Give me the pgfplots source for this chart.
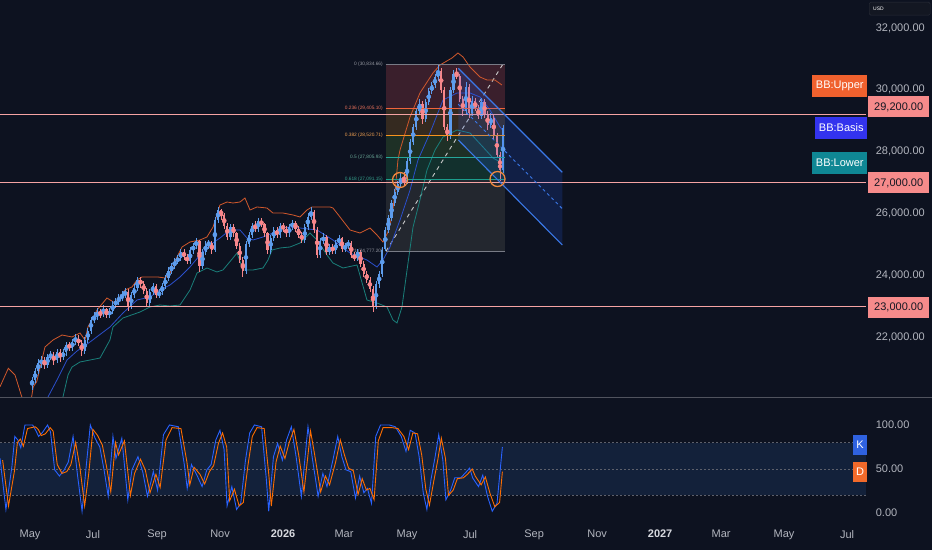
\documentclass[border=0pt]{standalone}
\usepackage{fontspec}
\setmainfont{Liberation Sans}
\usepackage{pgfplots}
\usepackage{pgfplotstable}
\pgfplotsset{compat=1.18}
\usepgfplotslibrary{fillbetween}
\definecolor{bgc}{HTML}{0D1220}
\definecolor{tickc}{HTML}{B2B5BE}
\definecolor{yearc}{HTML}{D8DAE0}
\definecolor{upc}{HTML}{5D9CEC}
\definecolor{dnc}{HTML}{F7868A}
\definecolor{cUpper}{HTML}{D0582C}
\definecolor{cBasis}{HTML}{2B4FCC}
\definecolor{cLower}{HTML}{1A7F7A}
\definecolor{bbfillc}{HTML}{2962FF}
\definecolor{hlinec}{HTML}{F5A3A3}
\definecolor{tagc}{HTML}{F68B8B}
\definecolor{tagtext}{HTML}{131722}
\definecolor{tagU}{HTML}{F0612E}
\definecolor{tagB}{HTML}{3333EE}
\definecolor{tagL}{HTML}{0F8794}
\definecolor{fL0}{HTML}{787B86}
\definecolor{fL236}{HTML}{F0643C}
\definecolor{fL382}{HTML}{F7931E}
\definecolor{fL5}{HTML}{26A69A}
\definecolor{fL618}{HTML}{1C9E8C}
\definecolor{fF0}{HTML}{3A1F2C}
\definecolor{fF236}{HTML}{352A20}
\definecolor{fF382}{HTML}{1E3026}
\definecolor{fF5}{HTML}{12302D}
\definecolor{fF618}{HTML}{23272F}
\definecolor{lab0}{HTML}{9598A1}
\definecolor{lab236}{HTML}{E8705A}
\definecolor{lab382}{HTML}{F0A050}
\definecolor{lab5}{HTML}{6AA898}
\definecolor{lab618}{HTML}{34A08C}
\definecolor{trendc}{HTML}{C8C8C8}
\definecolor{chanc}{HTML}{3A78E8}
\definecolor{chanf}{HTML}{2962FF}
\definecolor{circc}{HTML}{F0883E}
\definecolor{sepc}{HTML}{50535E}
\definecolor{bandc}{HTML}{13213A}
\definecolor{dashc}{HTML}{5D606B}
\definecolor{kc}{HTML}{2962FF}
\definecolor{dc}{HTML}{FF6D00}
\definecolor{tagK}{HTML}{2F62E0}
\definecolor{tagD}{HTML}{F26A2A}
\definecolor{usdf}{HTML}{131722}
\definecolor{usdb}{HTML}{2A2E39}
\newcommand\tvfont{\fontsize{11}{13}\selectfont}

\pgfplotstableread{
d o h l c
2 20450 20700 20300 20600
5 20600 21000 20500 20900
8 20900 21300 20800 21150
11 21150 21400 21000 21250
14 21250 21350 20950 21100
17 21100 21450 21000 21350
20 21350 21550 21250 21400
23 21400 21500 21100 21250
26 21250 21600 21150 21500
29 21500 21600 21200 21350
32 21350 21600 21250 21500
35 21500 21850 21400 21750
38 21750 21850 21550 21650
41 21650 21950 21550 21850
44 21850 22100 21750 21950
47 21950 22050 21700 21800
50 21800 21900 21400 21550
53 21550 22000 21450 21900
56 21900 22300 21800 22200
59 22200 22650 22100 22550
62 22550 22800 22450 22650
65 22650 22950 22550 22800
68 22800 22900 22600 22750
71 22750 23050 22650 22900
74 22900 22950 22600 22700
77 22700 22950 22600 22850
80 22850 23150 22750 23050
83 23050 23250 22950 23150
86 23150 23400 23050 23250
89 23250 23500 23150 23350
92 23350 23600 23250 23450
95 23450 23550 22850 23000
98 23000 23450 22900 23350
101 23350 23700 23250 23600
104 23600 23950 23500 23850
107 23850 23950 23600 23700
110 23700 23800 23400 23500
113 23500 23600 23000 23100
116 23100 23550 23000 23450
119 23450 23750 23350 23650
122 23650 23700 23250 23350
125 23350 23550 23250 23450
128 23450 23750 23350 23650
131 23650 24000 23550 23900
134 23900 24250 23800 24150
137 24150 24400 24050 24300
140 24300 24550 24200 24450
143 24450 24650 24350 24550
146 24550 24850 24450 24750
149 24750 24850 24500 24600
152 24600 24700 24350 24450
155 24450 24900 24350 24800
158 24800 25050 24700 24950
161 24950 25200 24850 25100
164 25100 25150 24100 24300
167 24300 24850 24200 24750
170 24750 25100 24650 25000
173 25000 25150 24850 25050
176 25050 25100 24700 24800
179 24800 25900 24750 25800
182 25800 26200 25700 26100
185 26100 26150 25800 25950
188 25950 26000 25500 25600
191 25600 25700 25150 25250
194 25250 25650 25150 25550
197 25550 25650 25250 25350
200 25350 25400 24850 24950
203 24950 25050 24400 24500
206 24500 24600 23950 24150
209 24150 25100 24050 25000
212 25000 25400 24900 25300
215 25300 25700 25200 25600
218 25600 25750 25400 25500
221 25500 25850 25400 25750
224 25750 25850 25550 25650
227 25650 25700 25250 25350
230 25350 25400 24700 24800
233 24800 25300 24700 25200
236 25200 25550 25100 25450
239 25450 25550 25200 25300
242 25300 25700 25200 25600
245 25600 25700 25400 25500
248 25500 25600 25250 25350
251 25350 25650 25250 25550
254 25550 25800 25450 25700
257 25700 25750 25400 25500
260 25500 25600 25200 25300
263 25300 25400 25050 25150
266 25150 25650 25050 25550
269 25550 26000 25450 25900
272 25900 26200 25800 26050
275 26050 26100 25350 25450
278 25450 25550 24550 24650
281 24650 25200 24550 25100
284 25100 25350 25000 25250
287 25250 25300 24650 24750
290 24750 25000 24650 24900
293 24900 25000 24700 24800
296 24800 25150 24700 25050
299 25050 25300 24950 25200
302 25200 25250 24750 24850
305 24850 25050 24750 24950
308 24950 25150 24850 25050
311 25050 25100 24550 24650
314 24650 24750 24450 24550
317 24550 24850 24450 24750
320 24750 24800 24250 24350
323 24350 24450 23950 24050
326 24050 24150 23750 23850
329 23850 23950 23450 23550
332 23550 23650 22800 23000
335 23000 23800 22900 23700
338 23700 24150 23600 24050
341 24050 24900 23950 24800
344 24850 25550 24777.2 25450
347 25450 25950 25350 25850
350 25850 26450 25750 26350
353 26350 26800 26250 26700
356 26700 27050 26600 26950
359 26950 27300 26850 27100
362 27100 27350 26900 27000
365 27000 27800 26950 27700
368 27700 28400 27600 28300
371 28300 28900 28200 28800
374 28800 29400 28700 29300
377 29300 29700 29200 29550
380 29550 29650 28900 29050
383 29050 29700 28950 29600
386 29600 30050 29500 29950
389 29950 30250 29850 30150
392 30150 30500 30050 30400
395 30400 30834.66 30300 30600
398 30600 30700 29900 30000
401 30000 30100 28700 28800
404 28800 28900 28350 28500
407 28500 30100 28400 30000
410 30000 30650 29900 30500
413 30500 30700 30350 30450
416 30450 30500 29600 29700
419 29700 29800 29150 29300
422 29300 30250 29200 30100
425 30100 30200 29100 29250
428 29250 29800 29150 29650
431 29650 29750 29300 29400
434 29400 29500 29050 29150
437 29150 29750 29050 29600
440 29600 29700 29100 29200
443 29200 29300 28700 28850
446 28850 29250 28750 29100
449 29100 29200 28400 28500
452 28500 28600 27800 27900
455 27900 28000 27050 27400
458 27400 28850 27300 28750
}\candles

\pgfplotstableread{
d p
-29.0 20393
-21.0 20988
-14.5 20771
-8.0 20069
-4.0 19800
1.6 20069
3.2 20393
6.5 20554
14.5 21677
22.3 21904
31.0 22065
40.7 22001
48.4 22130
53.2 21904
56.1 22324
64.9 22874
74.5 23263
82.3 23101
87.1 23295
92.0 23522
98.7 23619
103.6 23845
108.4 23942
116.2 23942
123.9 23942
130.7 23910
135.5 24072
142.3 24590
147.1 24913
154.9 25075
164.6 25140
171.3 25237
177.2 25560
183.9 26272
190.7 26369
196.5 26337
203.3 26369
208.1 26499
213.0 26110
219.7 26208
229.4 26175
235.2 26013
244.9 26013
254.6 25949
261.4 25884
268.1 26110
273.0 26208
280.7 26208
290.4 26208
293.3 26175
300.1 25884
309.8 25463
319.5 25366
329.1 25528
335.9 25301
341.7 25075
346.6 25399
350.4 25884
353.3 26661
356.2 27728
358.2 28052
367.9 29120
377.5 29897
390.1 30544
396.9 30803
408.5 31029
414.3 31191
419.2 31062
426.0 30738
435.6 30414
442.4 30317
450.1 30317
456.9 30155
}\bbU

\pgfplotstableread{
d p
15.0 19700
17.4 20059
26.1 20609
35.8 21256
45.5 21548
58.1 21839
77.4 22324
90.0 22777
103.6 23198
116.2 23295
125.8 23522
135.5 23683
145.2 23942
154.9 24266
164.6 24654
174.2 24978
183.9 25204
193.6 25463
203.3 25463
210.1 25204
215.9 25140
225.6 25237
235.2 25366
244.9 25528
251.7 25560
261.4 25528
277.8 25463
293.3 25140
309.8 24719
326.2 24492
335.9 24266
341.7 24492
348.5 24913
358.2 25787
367.9 26758
375.6 27728
387.2 28602
399.8 29670
413.4 29897
426.0 29897
435.6 29767
445.3 29346
455.0 28796
457.5 28700
}\bbB

\pgfplotstableread{
d p
-29.0 17500
0.0 18500
25.0 19000
31.9 20059
36.8 20771
40.7 21030
48.4 21192
58.1 21256
67.8 21321
77.4 21904
80.3 22324
90.0 22616
106.5 22810
116.2 22972
125.8 23036
135.5 23004
145.2 23036
154.9 23522
161.7 24072
171.3 24234
181.0 24104
186.8 24169
196.5 24557
200.4 24719
206.2 24169
215.9 24169
225.6 24234
230.4 24492
234.3 24816
242.0 24881
251.7 24913
261.4 25043
271.1 25366
277.8 25140
287.5 24654
293.3 24395
303.0 24234
316.6 24331
326.2 23198
335.9 23101
345.6 22972
351.4 22551
355.3 22454
360.1 22972
365.0 24169
370.8 25560
377.5 26434
384.3 27405
392.1 28052
399.8 28473
413.4 28699
426.0 28602
438.5 28149
448.2 27793
456.9 27631
}\bbL

\pgfplotstableread{
d v
-29.0 62
-23.3 4
-17.5 53
-14.7 87
-11.8 83
-8.9 74
-4.9 100
2.6 100
5.5 94
8.4 87
12.4 92
17.0 100
19.9 92
23.9 49
28.5 42
33.1 49
37.1 58
41.7 87
45.8 45
50.4 2
54.4 53
58.4 100
63.0 85
67.6 75
71.7 49
75.7 19
80.3 87
83.2 62
88.9 85
94.7 15
98.7 49
104.5 64
109.1 47
113.7 19
119.4 47
123.5 26
129.2 89
135.0 100
143.6 98
149.4 55
152.2 28
156.3 55
162.0 42
166.6 30
171.2 49
175.3 55
179.9 83
183.9 94
187.9 72
190.8 8
195.4 30
200.0 4
204.0 11
208.6 60
212.7 91
217.3 100
224.2 98
228.8 38
231.1 2
235.7 64
239.7 79
244.3 60
248.4 83
253.0 98
257.6 64
262.7 19
269.1 98
273.1 64
278.9 19
283.5 45
287.5 30
293.2 60
297.9 87
301.9 64
305.9 49
310.5 47
315.1 17
319.1 42
323.2 23
326.6 28
330.6 11
334.7 87
339.3 100
347.9 100
353.7 98
359.4 87
364.0 70
368.1 94
372.7 91
376.7 64
380.7 23
384.2 4
388.2 38
392.2 64
395.7 89
399.7 60
402.6 15
407.2 26
411.2 40
417.0 40
421.0 45
425.6 51
428.5 40
434.2 30
438.3 43
442.9 19
447.5 2
452.1 11
457.3 75
}\stochK

\pgfplotstableread{
d v
-26.5 60
-20.8 8
-15.0 48
-12.2 80
-9.3 84
-6.4 76
-2.4 96
5.1 98
8.0 95
10.9 88
14.9 90
19.5 97
22.4 93
26.4 55
31.0 45
35.6 47
39.6 55
44.2 80
48.3 52
52.9 8
56.9 45
60.9 95
65.5 88
70.1 77
74.2 52
78.2 24
82.8 80
85.7 66
91.4 82
97.2 20
101.2 45
107.0 61
111.6 49
116.2 23
121.9 44
126.0 29
131.7 83
137.5 97
146.1 96
151.9 58
154.7 32
158.8 52
164.5 44
169.1 33
173.7 47
177.8 54
182.4 79
186.4 91
190.4 75
193.3 14
197.9 27
202.5 8
206.5 12
211.1 55
215.2 87
219.8 97
226.7 96
231.3 42
233.6 8
238.2 58
242.2 76
246.8 62
250.9 80
255.5 95
260.1 66
265.2 24
271.6 93
275.6 66
281.4 24
286.0 42
290.0 32
295.7 57
300.4 83
304.4 66
308.4 51
313.0 48
317.6 21
321.6 39
325.7 26
329.1 28
333.1 15
337.2 82
341.8 97
350.4 97
356.2 96
361.9 87
366.5 72
370.6 91
375.2 90
379.2 66
383.2 27
386.7 9
390.7 35
394.7 60
398.2 85
402.2 62
405.1 20
409.7 26
413.7 39
419.5 40
423.5 44
428.1 50
431.0 42
436.7 32
440.8 41
445.4 22
450.0 7
454.6 12
457.3 47
}\stochD

\pgfplotsset{
  tv/.style={scale only axis, anchor=south west,
    axis line style={draw=none}, tick style={draw=none}, major tick length=0pt,
    xmin=-29.04, xmax=809.3, yticklabel pos=right, scaled y ticks=false,
    ticklabel style={font=\tvfont, text=tickc},
    yticklabel style={anchor=west, xshift=6.3pt,
      /pgf/number format/.cd, fixed, fixed zerofill, precision=2, 1000 sep={,}, assume math mode=true}},
  candle/.style={only marks, mark=none, forget plot, color=#1, draw=#1,
    error bars/.cd, y dir=both, y explicit, error mark=none},
}
\tikzset{fiblab/.style={anchor=east, inner sep=0pt, font=\fontsize{4.8}{5.5}\selectfont}}

\begin{document}
\begin{tikzpicture}
\fill[bgc] (0pt,0pt) rectangle (932pt,550pt);

% ---------------- main price pane ----------------
\begin{axis}[tv, at={(0pt,153pt)}, width=866pt, height=397pt,
  ymin=20059, ymax=32906, xtick=\empty,
  ytick={22000,24000,26000,28000,30000,32000}]

\addplot[draw=none, forget plot, name path=U] table[x=d,y=p] {\bbU};
\addplot[draw=none, forget plot, name path=L] table[x=d,y=p] {\bbL};
\addplot[fill=bbfillc, fill opacity=0.09, draw=none, forget plot] fill between[of=U and L];

% fib retracement zones
\addplot[fill=fF0, draw=none, forget plot] coordinates {(344.3,30834.66) (459.8,30834.66) (459.8,29405.10) (344.3,29405.10)} -- cycle;
\addplot[fill=fF236, draw=none, forget plot] coordinates {(344.3,29405.10) (459.8,29405.10) (459.8,28520.71) (344.3,28520.71)} -- cycle;
\addplot[fill=fF382, draw=none, forget plot] coordinates {(344.3,28520.71) (459.8,28520.71) (459.8,27805.93) (344.3,27805.93)} -- cycle;
\addplot[fill=fF5, draw=none, forget plot] coordinates {(344.3,27805.93) (459.8,27805.93) (459.8,27091.15) (344.3,27091.15)} -- cycle;
\addplot[fill=fF618, draw=none, forget plot] coordinates {(344.3,27091.15) (459.8,27091.15) (459.8,24777.20) (344.3,24777.20)} -- cycle;
\addplot[trendc, line width=0.9pt, dash pattern=on 4pt off 4pt, forget plot] coordinates {(344.6,24777.2) (457.9,30834.66)};

% Bollinger lines
\addplot[cUpper, line width=0.8pt, forget plot] table[x=d,y=p] {\bbU};
\addplot[cBasis, line width=0.8pt, forget plot] table[x=d,y=p] {\bbB};
\addplot[cLower, line width=0.8pt, forget plot] table[x=d,y=p] {\bbL};

% candles: wicks
\addplot[candle=upc, error bar style={upc, line width=0.7pt}]
  table[x=d, y expr={\thisrow{c}>\thisrow{o} ? 0.5*(\thisrow{h}+\thisrow{l}) : nan},
        y error expr={0.5*(\thisrow{h}-\thisrow{l})}] {\candles};
\addplot[candle=dnc, error bar style={dnc, line width=0.7pt}]
  table[x=d, y expr={\thisrow{c}<\thisrow{o} ? 0.5*(\thisrow{h}+\thisrow{l}) : nan},
        y error expr={0.5*(\thisrow{h}-\thisrow{l})}] {\candles};
% candles: bodies
\addplot[candle=upc, error bar style={upc, line width=2.2pt}]
  table[x=d, y expr={\thisrow{c}>\thisrow{o} ? 0.5*(\thisrow{o}+\thisrow{c}) : nan},
        y error expr={0.5*abs(\thisrow{c}-\thisrow{o})}] {\candles};
\addplot[candle=dnc, error bar style={dnc, line width=2.2pt}]
  table[x=d, y expr={\thisrow{c}<\thisrow{o} ? 0.5*(\thisrow{o}+\thisrow{c}) : nan},
        y error expr={0.5*abs(\thisrow{c}-\thisrow{o})}] {\candles};

% fib level lines
\addplot[fL0, line width=0.9pt, forget plot] coordinates {(344.3,30834.66) (459.8,30834.66)};
\addplot[fL236, line width=0.9pt, forget plot] coordinates {(344.3,29405.10) (459.8,29405.10)};
\addplot[fL382, line width=0.9pt, forget plot] coordinates {(344.3,28520.71) (459.8,28520.71)};
\addplot[fL5, line width=0.9pt, forget plot] coordinates {(344.3,27805.93) (459.8,27805.93)};
\addplot[fL618, line width=0.9pt, forget plot] coordinates {(344.3,27091.15) (459.8,27091.15)};
\addplot[fL0, line width=0.9pt, forget plot] coordinates {(344.3,24777.20) (459.8,24777.20)};

% horizontal levels
\addplot[hlinec, line width=1.1pt, forget plot] coordinates {(-29.04,29200) (809.3,29200)};
\addplot[hlinec, line width=1.1pt, forget plot] coordinates {(-29.04,27000) (809.3,27000)};
\addplot[hlinec, line width=1.1pt, forget plot] coordinates {(-29.04,23000) (809.3,23000)};

% parallel channel
\addplot[fill=chanf, fill opacity=0.17, draw=none, forget plot] coordinates {(414.6,30696) (515.3,27330) (515.3,24978) (414.6,28376)} -- cycle;
\addplot[chanc, line width=1.1pt, forget plot] coordinates {(414.6,30696) (515.3,27330)};
\addplot[chanc, line width=1.1pt, forget plot] coordinates {(414.6,28376) (515.3,24978)};
\addplot[chanc, line width=0.9pt, dash pattern=on 3pt off 3pt, forget plot] coordinates {(414.6,29534) (515.3,26153)};

% circles
\addplot[only marks, mark=o, mark size=7.5pt, circc, line width=1.3pt, forget plot] coordinates {(358.2,27081) (452.6,27113)};

% fib labels
\node[fiblab, text=lab0] at (axis cs:341.7,30834.66) {0 (30,834.66)};
\node[fiblab, text=lab236] at (axis cs:341.7,29405.10) {0.236 (29,405.10)};
\node[fiblab, text=lab382] at (axis cs:341.7,28520.71) {0.382 (28,520.71)};
\node[fiblab, text=lab5] at (axis cs:341.7,27805.93) {0.5 (27,805.93)};
\node[fiblab, text=lab618] at (axis cs:341.7,27091.15) {0.618 (27,091.15)};
\node[fiblab, text=lab0] at (axis cs:341.7,24777.20) {1 (24,777.20)};
\end{axis}

\draw[sepc, line width=1pt] (0pt,153pt) -- (932pt,153pt);

% ---------------- stochastic pane ----------------
\begin{axis}[tv, at={(0pt,28pt)}, width=866pt, height=122pt,
  ymin=-10.23, ymax=128.4, ytick={0,50,100},
  xtick={0,61,123,184,245,304,365,426,488,549,610,669,730,791},
  xticklabels={May,Jul,Sep,Nov,\textcolor{yearc}{\textbf{2026}},Mar,May,Jul,Sep,Nov,\textcolor{yearc}{\textbf{2027}},Mar,May,Jul},
  xticklabel style={yshift=-4.5pt}]
\addplot[fill=bandc, draw=none, forget plot] coordinates {(-29.04,20) (809.3,20) (809.3,80) (-29.04,80)} -- cycle;
\addplot[dashc, line width=0.8pt, dash pattern=on 2pt off 2pt, forget plot] coordinates {(-29.04,80) (809.3,80)};
\addplot[dashc, line width=0.8pt, dash pattern=on 2pt off 2pt, forget plot] coordinates {(-29.04,50) (809.3,50)};
\addplot[dashc, line width=0.8pt, dash pattern=on 2pt off 2pt, forget plot] coordinates {(-29.04,20) (809.3,20)};
\addplot[kc, line width=0.9pt, forget plot] table[x=d,y=v] {\stochK};
\addplot[dc, line width=0.9pt, forget plot] table[x=d,y=v] {\stochD};
\end{axis}

% ---------------- right-side tags ----------------
\tikzset{ptag/.style={anchor=west, fill=tagc, text=tagtext, minimum width=61pt, minimum height=21pt, inner sep=0pt, font=\tvfont},
         bbtag/.style={anchor=east, text=white, minimum height=21.5pt, inner xsep=3.5pt, inner ysep=0pt, font=\tvfont}}
\node[ptag] at (868pt,443pt) {29,200.00};
\node[ptag] at (868pt,367pt) {27,000.00};
\node[ptag] at (868pt,243pt) {23,000.00};
\node[bbtag, fill=tagU] at (867.3pt,464pt) {BB:Upper};
\node[bbtag, fill=tagB] at (867.3pt,422pt) {BB:Basis};
\node[bbtag, fill=tagL] at (867.3pt,387pt) {BB:Lower};
\node[fill=tagK, text=white, minimum width=14pt, minimum height=20pt, inner sep=0pt, font=\tvfont] at (860pt,105pt) {K};
\node[fill=tagD, text=white, minimum width=14pt, minimum height=20pt, inner sep=0pt, font=\tvfont] at (860pt,78.5pt) {D};
\node[draw=usdb, fill=usdf, rounded corners=1.5pt, minimum width=61pt, minimum height=13pt, anchor=north west, inner sep=0pt] at (869pt,548pt) {};
\node[anchor=west, font=\fontsize{5}{6}\selectfont, text=white, inner sep=0pt] at (873pt,541.5pt) {USD};

\pgfresetboundingbox
\useasboundingbox (0pt,0pt) rectangle (932pt,550pt);
\end{tikzpicture}
\end{document}
